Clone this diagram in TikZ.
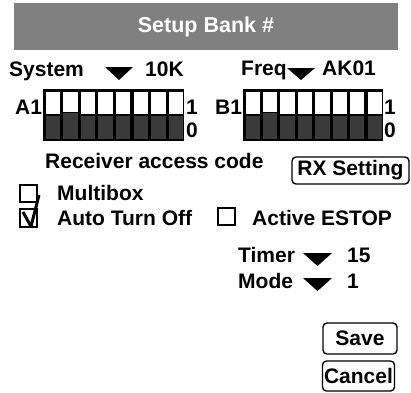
\documentclass[tikz,border=0pt]{standalone}
\usepackage{fontspec}
\setmainfont{Liberation Sans}
\definecolor{barGray}{HTML}{808080}
\definecolor{dipDark}{HTML}{3A3A3A}
\tikzset{
  lbl/.style={anchor=base west, inner sep=0pt, font=\bfseries\fontsize{21}{24}\selectfont},
  btn/.style={draw, line width=1.4pt, rounded corners=4pt, inner sep=0pt,
              font=\bfseries\fontsize{21}{24}\selectfont},
  chk/.style={draw, line width=1.5pt},
  drop/.style={fill=black},
}
% eight-way DIP switch: #1 = left x, #2 = cell width
\newcommand{\dipbank}[2]{%
  \fill[black] (#1,89) rectangle ++(8*#2,52);
  \foreach \i in {0,...,7}{
    \pgfmathsetmacro{\xa}{#1+\i*#2+2.5}
    \pgfmathsetmacro{\xb}{#1+(\i+1)*#2-0.7}
    \pgfmathsetmacro{\yd}{\i==1 ? 113 : 115.5}
    \fill[white] (\xa,91.5) rectangle (\xb,\yd-1.5);
    \fill[dipDark] (\xa,\yd) rectangle (\xb,138.5);
  }
}
\begin{document}
\begin{tikzpicture}[x=1pt,y=-1pt]
\useasboundingbox (0,0) rectangle (411,392);
\fill[white] (0,0) rectangle (411,392);

% title bar
\fill[barGray] (14,3) rectangle (398,50);
\node[font=\bfseries\fontsize{21.5}{24}\selectfont, text=white] (title) at (206,26.5) {Setup Bank \#};

% system / frequency selectors
\node[lbl] (sys) at (9,76) {System};
\fill[drop] (105,67) -- (133,67) -- (119,80) -- cycle;
\node[lbl] (sysval) at (145,76) {10K};
\node[lbl] (freq) at (241,75.5) {Freq};
\fill[drop] (287,68) -- (315,68) -- (301,80) -- cycle;
\node[lbl] (freqval) at (322,75.5) {AK01};

% DIP switch banks
\node[lbl] (bankA) at (15,114) {A1};
\dipbank{43}{17.625}
\node[lbl] (aOne) at (186,114) {1};
\node[lbl] (aZero) at (186,137) {0};

\node[lbl] (bankB) at (215,114) {B1};
\dipbank{243}{17.45}
\node[lbl] (bOne) at (384,114) {1};
\node[lbl] (bZero) at (384,137) {0};

\node[lbl] (rxcode) at (45,168) {Receiver access code};
\node[btn, minimum width=117pt, minimum height=27pt] (rxset) at (350.5,170.5) {RX Setting};

% options
\draw[chk] (20,185) rectangle (37,202);
\node[lbl] (multi) at (57,200) {Multibox};
\draw[chk] (20,209) rectangle (37,227);
\draw[line width=3pt, line join=round] (23,212) -- (31,226.5) -- (39,195);
\node[lbl] (auto) at (57,225) {Auto Turn Off};
\draw[chk] (218,208) rectangle (235,225);
\node[lbl] (estop) at (252,225) {Active ESTOP};

% timer / mode selectors
\node[lbl] (timer) at (238,262) {Timer};
\fill[drop] (303,253) -- (332,253) -- (317.5,266) -- cycle;
\node[lbl] (timerval) at (347,262) {15};
\node[lbl] (mode) at (238,288) {Mode};
\fill[drop] (303,278) -- (332,278) -- (317.5,291) -- cycle;
\node[lbl] (modeval) at (347,288) {1};

% buttons
\node[btn, minimum width=74pt, minimum height=31pt] (save) at (360,338.5) {Save};
\node[btn, minimum width=72pt, minimum height=30pt] (cancel) at (358.5,376) {Cancel};
\end{tikzpicture}
\end{document}
